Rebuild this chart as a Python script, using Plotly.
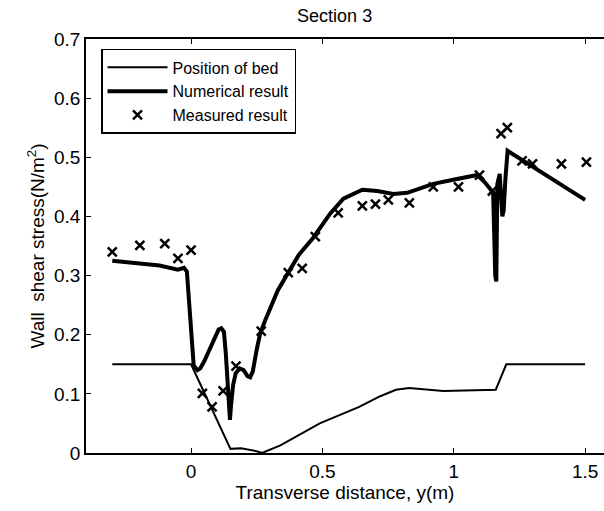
import plotly.graph_objects as go

# Position of bed
bed_x = [-0.3, 0.0, 0.15, 0.19, 0.25, 0.27, 0.34, 0.49, 0.64, 0.72, 0.78, 0.83, 0.96, 1.16, 1.2, 1.5]
bed_y = [0.15, 0.15, 0.007, 0.008, 0.003, 0.0, 0.013, 0.05, 0.078, 0.096, 0.107, 0.110, 0.105, 0.107, 0.15, 0.15]

# Numerical result
num_x = [-0.30, -0.18, -0.12, -0.05, -0.027, -0.016, 0.01, 0.024, 0.035, 0.05, 0.07, 0.09,
         0.105, 0.115, 0.125, 0.132, 0.14, 0.148, 0.152, 0.16, 0.17, 0.185, 0.2, 0.215, 0.225,
         0.235, 0.25, 0.263, 0.28, 0.30, 0.33, 0.37, 0.41, 0.465, 0.53, 0.58, 0.652, 0.709,
         0.77, 0.823, 0.922, 0.998, 1.09, 1.12, 1.15, 1.158, 1.162, 1.166, 1.175, 1.185, 1.19,
         1.197, 1.205, 1.5]
num_y = [0.325, 0.32, 0.317, 0.31, 0.313, 0.307, 0.148, 0.14, 0.143, 0.155, 0.175, 0.197,
         0.209, 0.211, 0.205, 0.17, 0.11, 0.056, 0.08, 0.115, 0.135, 0.143, 0.14, 0.13, 0.128,
         0.138, 0.175, 0.202, 0.222, 0.245, 0.275, 0.305, 0.335, 0.364, 0.405, 0.43, 0.445, 0.443,
         0.438, 0.44, 0.455, 0.462, 0.47, 0.457, 0.44, 0.30, 0.29, 0.455, 0.472, 0.40, 0.41,
         0.466, 0.511, 0.428]

# Measured result
meas_x = [-0.30, -0.195, -0.10, -0.05, 0.0, 0.043, 0.08, 0.122, 0.171, 0.267, 0.37, 0.423,
          0.473, 0.56, 0.652, 0.702, 0.751, 0.831, 0.922, 1.018, 1.098, 1.147, 1.18, 1.204,
          1.26, 1.30, 1.41, 1.505]
meas_y = [0.340, 0.351, 0.354, 0.329, 0.343, 0.101, 0.078, 0.105, 0.147, 0.206, 0.305, 0.312,
          0.366, 0.406, 0.418, 0.421, 0.428, 0.423, 0.45, 0.45, 0.470, 0.443, 0.54, 0.55,
          0.494, 0.489, 0.489, 0.492]

x_ticks = [0, 0.5, 1, 1.5]
x_labels = ["0", "0.5", "1", "1.5"]
y_ticks = [0, 0.1, 0.2, 0.3, 0.4, 0.5, 0.6, 0.7]
y_labels = ["0", "0.1", "0.2", "0.3", "0.4", "0.5", "0.6", "0.7"]

FONT = "Liberation Sans, Arial, sans-serif"

fig = go.Figure()
fig.add_trace(go.Scatter(x=bed_x, y=bed_y, mode="lines", name="Position of bed",
                         line=dict(color="black", width=2)))
fig.add_trace(go.Scatter(x=num_x, y=num_y, mode="lines", name="Numerical result",
                         line=dict(color="black", width=4)))
fig.add_trace(go.Scatter(x=meas_x, y=meas_y, mode="markers", name="Measured result",
                         marker=dict(symbol="x-thin", size=9, color="black",
                                     line=dict(width=2.5, color="black"))))

fig.update_layout(
    width=604, height=511,
    margin=dict(l=86, r=0, t=39, b=58),
    paper_bgcolor="white", plot_bgcolor="white",
    font=dict(family=FONT, size=16, color="black"),
    title=dict(text="Section 3", x=0.48, xref="paper", xanchor="center",
               y=0.97, yanchor="middle", font=dict(size=18, family=FONT)),
    showlegend=True,
    legend=dict(x=0.029, y=0.976, xanchor="left", yanchor="top",
                bordercolor="black", borderwidth=1.5, bgcolor="white",
                font=dict(size=16, family=FONT), itemwidth=60,
                tracegroupgap=0),
)
fig.update_xaxes(range=[-0.4, 1.572], tickvals=x_ticks, ticktext=x_labels,
                 ticks="inside", ticklen=5, tickwidth=1, tickcolor="black",
                 showline=True, linecolor="black", linewidth=1.5, mirror="ticks",
                 showgrid=False, zeroline=False,
                 title=dict(text="Transverse distance, y(m)", font=dict(size=19, family=FONT), standoff=2),
                 tickfont=dict(size=19, family=FONT))
fig.update_yaxes(range=[0, 0.7], tickvals=y_ticks, ticktext=y_labels,
                 ticks="inside", ticklen=5, tickwidth=1, tickcolor="black",
                 showline=True, linecolor="black", linewidth=1.5, mirror=False,
                 showgrid=False, zeroline=False,
                 title=dict(text="Wall  shear stress(N/m<sup>2</sup>)", font=dict(size=19, family=FONT), standoff=4),
                 tickfont=dict(size=19, family=FONT))

fig.write_html("out.html")
